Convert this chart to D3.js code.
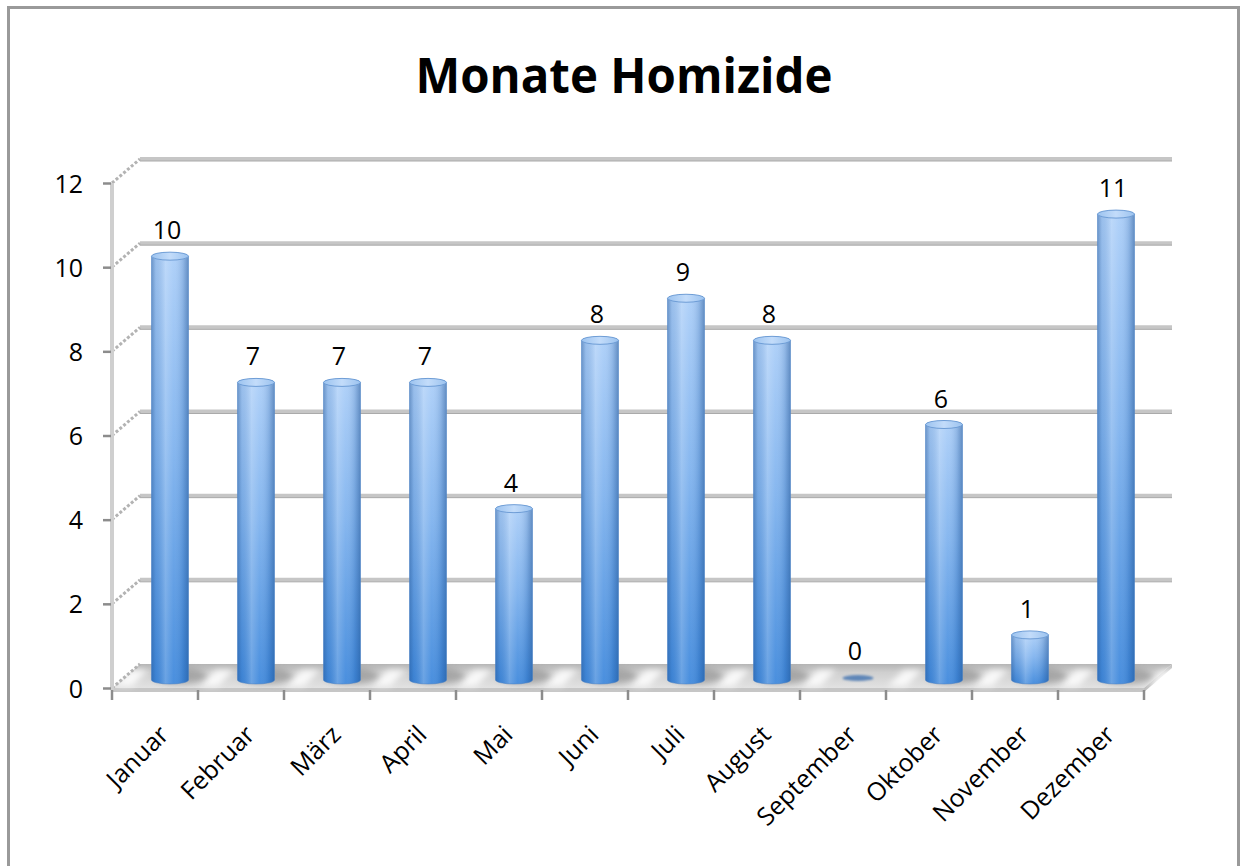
<!DOCTYPE html>
<html>
<head>
<meta charset="utf-8">
<script src="https://cdn.jsdelivr.net/npm/d3@7"></script>
<style>
  html, body { margin: 0; padding: 0; background: #fff; }
  svg { display: block; font-family: "Open Sans", "Noto Sans", sans-serif; }
</style>
</head>
<body>
<svg id="chart" width="1241" height="866"></svg>
<script>
// Homicides per month
const months = ["Januar", "Februar", "März", "April", "Mai", "Juni", "Juli",
                "August", "September", "Oktober", "November", "Dezember"];
const counts = [10, 7, 7, 7, 4, 8, 9, 8, 0, 6, 1, 11];
const yTicks = [0, 2, 4, 6, 8, 10, 12];
const title = "Monate Homizide";

const svg = d3.select("#chart");

// plot frame (front plane) and 3D depth offset
const plotLeft = 112, plotRight = 1144, plotBottom = 688, plotTop = 183;
const depthX = 28, depthY = -24;        // back wall offset
const midX = 15, midY = -11;            // plane where the cylinders stand

const x = d3.scaleBand().domain(months).range([plotLeft, plotRight]).paddingInner(0.57).paddingOuter(0.285);
const xEdge = d3.scaleLinear().domain([0, months.length]).range([plotLeft, plotRight]);
const y = d3.scaleLinear().domain([0, 12]).range([plotBottom, plotTop]);

const defs = svg.append("defs");

// chart border
svg.append("rect")
  .attr("x", 8.5).attr("y", 7.5).attr("width", 1230).attr("height", 900)
  .attr("fill", "#fff").attr("stroke", "#9a9a9a").attr("stroke-width", 3);

// title
svg.append("text")
  .attr("x", 624).attr("y", 93)
  .attr("text-anchor", "middle")
  .attr("font-size", 48).attr("font-weight", 700)
  .attr("textLength", 417).attr("lengthAdjust", "spacingAndGlyphs")
  .attr("fill", "#000")
  .text(title);

// ---- gradients and filters ----
const floorGrad = defs.append("linearGradient").attr("id", "floorGrad")
  .attr("x1", 0).attr("y1", 0).attr("x2", 0).attr("y2", 1);
floorGrad.append("stop").attr("offset", "0%").attr("stop-color", "#b4b4b4");
floorGrad.append("stop").attr("offset", "35%").attr("stop-color", "#cfcfcf");
floorGrad.append("stop").attr("offset", "100%").attr("stop-color", "#e2e2e2");

const barV = defs.append("linearGradient").attr("id", "barV")
  .attr("x1", 0).attr("y1", 0).attr("x2", 0).attr("y2", 1);
barV.append("stop").attr("offset", "0%").attr("stop-color", "#abcef8");
barV.append("stop").attr("offset", "45%").attr("stop-color", "#80b3ee");
barV.append("stop").attr("offset", "100%").attr("stop-color", "#4089dc");

const barH = defs.append("linearGradient").attr("id", "barH")
  .attr("x1", 0).attr("y1", 0).attr("x2", 1).attr("y2", 0);
[["0%", "#1d4f8f", 0.45], ["12%", "#1d4f8f", 0.12], ["38%", "#ffffff", 0.22],
 ["60%", "#ffffff", 0.05], ["85%", "#1d4f8f", 0.18], ["100%", "#1d4f8f", 0.5]]
  .forEach(([o, c, a]) => barH.append("stop").attr("offset", o).attr("stop-color", c).attr("stop-opacity", a));

const capGrad = defs.append("linearGradient").attr("id", "capGrad")
  .attr("x1", 0).attr("y1", 0).attr("x2", 1).attr("y2", 0);
capGrad.append("stop").attr("offset", "0%").attr("stop-color", "#9cc3ef");
capGrad.append("stop").attr("offset", "50%").attr("stop-color", "#c3dcfa");
capGrad.append("stop").attr("offset", "100%").attr("stop-color", "#9cc3ef");

defs.append("filter").attr("id", "soft").attr("x", "-50%").attr("y", "-50%").attr("width", "200%").attr("height", "200%")
  .append("feGaussianBlur").attr("stdDeviation", 3);
defs.append("filter").attr("id", "soft1").attr("x", "-20%").attr("y", "-20%").attr("width", "140%").attr("height", "140%")
  .append("feGaussianBlur").attr("stdDeviation", 0.8);

// ---- floor ----
const floorPts = [[plotLeft, plotBottom], [plotRight, plotBottom],
                  [plotRight + depthX, plotBottom + depthY], [plotLeft + depthX, plotBottom + depthY]];
svg.append("path")
  .attr("d", "M" + floorPts.map(p => p.join(",")).join("L") + "Z")
  .attr("fill", "url(#floorGrad)");
// floor front edge
svg.append("rect")
  .attr("x", plotLeft).attr("y", plotBottom).attr("width", plotRight - plotLeft).attr("height", 4)
  .attr("fill", "#c6c6c6");
svg.append("path")
  .attr("d", `M${plotRight},${plotBottom}L${plotRight + depthX},${plotBottom + depthY}L${plotRight + depthX},${plotBottom + depthY + 4}L${plotRight},${plotBottom + 4}Z`)
  .attr("fill", "#bdbdbd");

// light streaks on the floor between the cylinders
const floorG = svg.append("g").attr("filter", "url(#soft)");
d3.range(months.length + 1).forEach(i => {
  const fx = xEdge(i) + 6;
  floorG.append("path")
    .attr("d", `M${fx - 4},${plotBottom - 2}L${fx + 14},${plotBottom - 2}L${fx + 30},${plotBottom + depthY + 6}L${fx + 12},${plotBottom + depthY + 6}Z`)
    .attr("fill", "#ffffff").attr("opacity", 0.85);
});

// ---- back wall gridlines ----
const grid = svg.append("g");
yTicks.filter(t => t > 0).forEach(t => {
  grid.append("line")
    .attr("x1", plotLeft + depthX).attr("x2", plotRight + depthX)
    .attr("y1", y(t) + depthY).attr("y2", y(t) + depthY)
    .attr("stroke", "#c6c6c6").attr("stroke-width", 4);
  grid.append("line")
    .attr("x1", plotLeft + depthX).attr("x2", plotRight + depthX)
    .attr("y1", y(t) + depthY + 2).attr("y2", y(t) + depthY + 2)
    .attr("stroke", "#aaaaaa").attr("stroke-width", 1);
});

// left wall: diagonal connectors
yTicks.forEach(t => {
  svg.append("line")
    .attr("x1", plotLeft).attr("y1", y(t))
    .attr("x2", plotLeft + depthX).attr("y2", y(t) + depthY)
    .attr("stroke", "#b3b3b3").attr("stroke-width", 3)
    .attr("stroke-dasharray", "3,2");
});

// y-axis line (front edge of the left wall)
svg.append("line")
  .attr("x1", plotLeft).attr("x2", plotLeft)
  .attr("y1", y(12)).attr("y2", plotBottom + 2)
  .attr("stroke", "#cfcfcf").attr("stroke-width", 4);

// y-axis ticks and labels
const yAxis = d3.axisLeft(y).tickValues(yTicks).tickSize(8).tickPadding(20).tickSizeOuter(0);
const yg = svg.append("g").attr("transform", `translate(${plotLeft - 1},0)`).call(yAxis);
yg.select(".domain").remove();
yg.selectAll(".tick line").attr("stroke", "#8c8c8c").attr("stroke-width", 2.5);
yg.selectAll(".tick text")
  .attr("font-size", 25).attr("fill", "#000")
  .attr("font-family", "'Open Sans', sans-serif")
  .attr("dy", "0.36em");

// x-axis ticks at category boundaries
d3.range(months.length + 1).forEach(i => {
  svg.append("line")
    .attr("x1", xEdge(i)).attr("x2", xEdge(i))
    .attr("y1", plotBottom + 2).attr("y2", plotBottom + 12)
    .attr("stroke", "#8c8c8c").attr("stroke-width", 2.5);
});

// x-axis labels, rotated
svg.append("g").selectAll("text")
  .data(months)
  .join("text")
  .attr("transform", d => `translate(${x(d) + x.bandwidth() / 2 + 9},${plotBottom + 42}) rotate(-45)`)
  .attr("text-anchor", "end")
  .attr("dy", "0.35em")
  .attr("font-size", 25)
  .attr("fill", "#000")
  .text(d => d);

// ---- cylinders ----
const bw = x.bandwidth();
const rx = bw / 2, ry = 4;
const baseY = y(0) + midY + 3;
const bars = svg.append("g");
const data = months.map((m, i) => ({ m, v: counts[i] }));

// shadows on the floor
bars.selectAll("ellipse.shadow")
  .data(data.filter(d => d.v > 0))
  .join("ellipse")
  .attr("class", "shadow")
  .attr("cx", d => x(d.m) + bw / 2 + midX + 10)
  .attr("cy", baseY - 4)
  .attr("rx", rx + 8).attr("ry", 8)
  .attr("fill", "#6f6f6f").attr("opacity", 0.45)
  .attr("filter", "url(#soft)");

data.forEach(d => {
  const cx = x(d.m) + bw / 2 + midX;
  const yt = y(d.v) + midY;
  const g = bars.append("g");
  if (d.v === 0) {
    g.append("ellipse")
      .attr("cx", cx).attr("cy", baseY - 2)
      .attr("rx", rx - 3).attr("ry", 3)
      .attr("fill", "#5f86b8").attr("filter", "url(#soft1)");
    return;
  }
  const body = `M${cx - rx},${yt}L${cx - rx},${baseY}A${rx},${ry} 0 0 0 ${cx + rx},${baseY}L${cx + rx},${yt}Z`;
  g.append("path").attr("d", body).attr("fill", "url(#barV)");
  g.append("path").attr("d", body).attr("fill", "url(#barH)");
  g.append("path").attr("d", body).attr("fill", "none")
    .attr("stroke", "#4a7fc4").attr("stroke-opacity", 0.5).attr("stroke-width", 1);
  g.append("ellipse")
    .attr("cx", cx).attr("cy", yt)
    .attr("rx", rx).attr("ry", ry)
    .attr("fill", "url(#capGrad)")
    .attr("stroke", "#6e9dd6").attr("stroke-width", 1);
});

// value labels
svg.append("g").selectAll("text")
  .data(data)
  .join("text")
  .attr("x", d => x(d.m) + bw / 2 + midX - 3)
  .attr("y", d => y(d.v) + midY - 17)
  .attr("text-anchor", "middle")
  .attr("font-size", 25)
  .attr("fill", "#000")
  .text(d => d.v);
</script>
</body>
</html>
